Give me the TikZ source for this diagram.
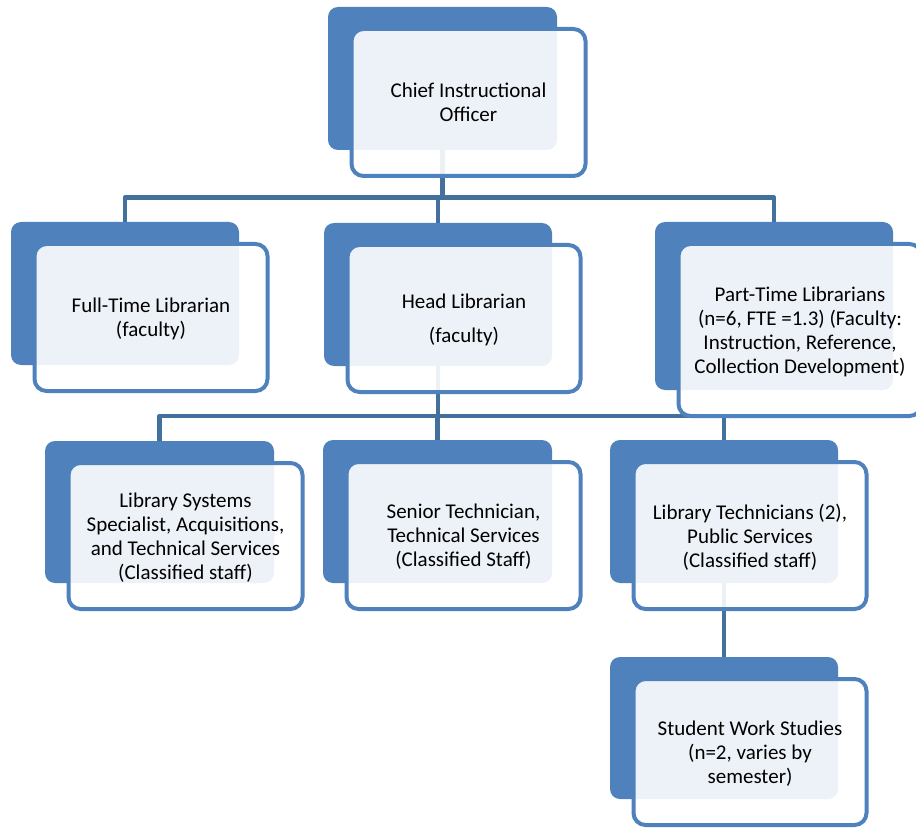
\documentclass[tikz,border=0pt]{standalone}
\usepackage{fontspec}
\setmainfont{Carlito}
\definecolor{acc}{HTML}{4F81BD}
\definecolor{connc}{HTML}{41719C}
\pgfdeclarelayer{paper}
\pgfdeclarelayer{lines}
\pgfsetlayers{paper,lines,main}
\newcommand\orgunit[6]{%
  \node[backbox, minimum width=#4pt, minimum height=#5pt] (#1B) at (#2,#3) {};
  \node[frontbox, minimum width=#4pt+5pt, minimum height=#5pt+4pt] (#1) at (#2+26,#3+24) {#6};
}
\begin{document}
\begin{tikzpicture}[x=1pt,y=-1pt,
  backbox/.style={fill=acc, draw=none, rounded corners=10pt, inner sep=0pt},
  frontbox/.style={draw=acc, line width=4pt, fill=white, fill opacity=0.9, text opacity=1,
    rounded corners=12pt, inner sep=0pt, align=center, text=black, text depth=0pt,
    font=\fontsize{21}{24}\selectfont},
  connline/.style={draw=connc, line width=4.5pt, line join=round}]
\useasboundingbox (0,0) rectangle (916,829);
\begin{pgfonlayer}{paper}
\fill[white] (0,0) rectangle (916,829);
\end{pgfonlayer}
\orgunit{cio}{442.5}{78.5}{229}{143}{Chief Instructional\\Officer}
\orgunit{ft}{125}{293.5}{228}{143}{Full-Time Librarian\\(faculty)}
\orgunit{hl}{438}{294.5}{228}{143}{Head Librarian\\[10pt](faculty)}
\orgunit{pt}{774}{306}{238}{168}{Part-Time Librarians\\(n=6, FTE =1.3) (Faculty:\\Instruction, Reference,\\Collection Development)}
\orgunit{ls}{159.5}{512}{229}{142}{Library Systems\\Specialist, Acquisitions,\\and Technical Services\\(Classified staff)}
\orgunit{st}{437.5}{511.5}{229}{143}{Senior Technician,\\Technical Services\\(Classified Staff)}
\orgunit{lt}{724}{511.5}{228}{143}{Library Technicians (2),\\Public Services\\(Classified staff)}
\orgunit{sw}{724}{728}{228}{142}{Student Work Studies\\(n=2, varies by\\semester)}
\coordinate (bus1) at (0,197.5);
\coordinate (bus2) at (0,416);
\begin{pgfonlayer}{lines}
\draw[connline] (cioB.south) -- (cioB.south |- bus1);
\draw[connline] (ftB.north) -- (ftB.north |- bus1) -- (ptB.north |- bus1) -- (ptB.north);
\draw[connline] (hlB.north) -- (hlB.north |- bus1);
\draw[connline] (hlB.south) -- (hlB.south |- bus2);
\draw[connline] (lsB.north) -- (lsB.north |- bus2) -- (ltB.north |- bus2) -- (ltB.north);
\draw[connline] (stB.north) -- (stB.north |- bus2);
\draw[connline] (ltB.south) -- (swB.north);
\end{pgfonlayer}
\end{tikzpicture}
\end{document}
